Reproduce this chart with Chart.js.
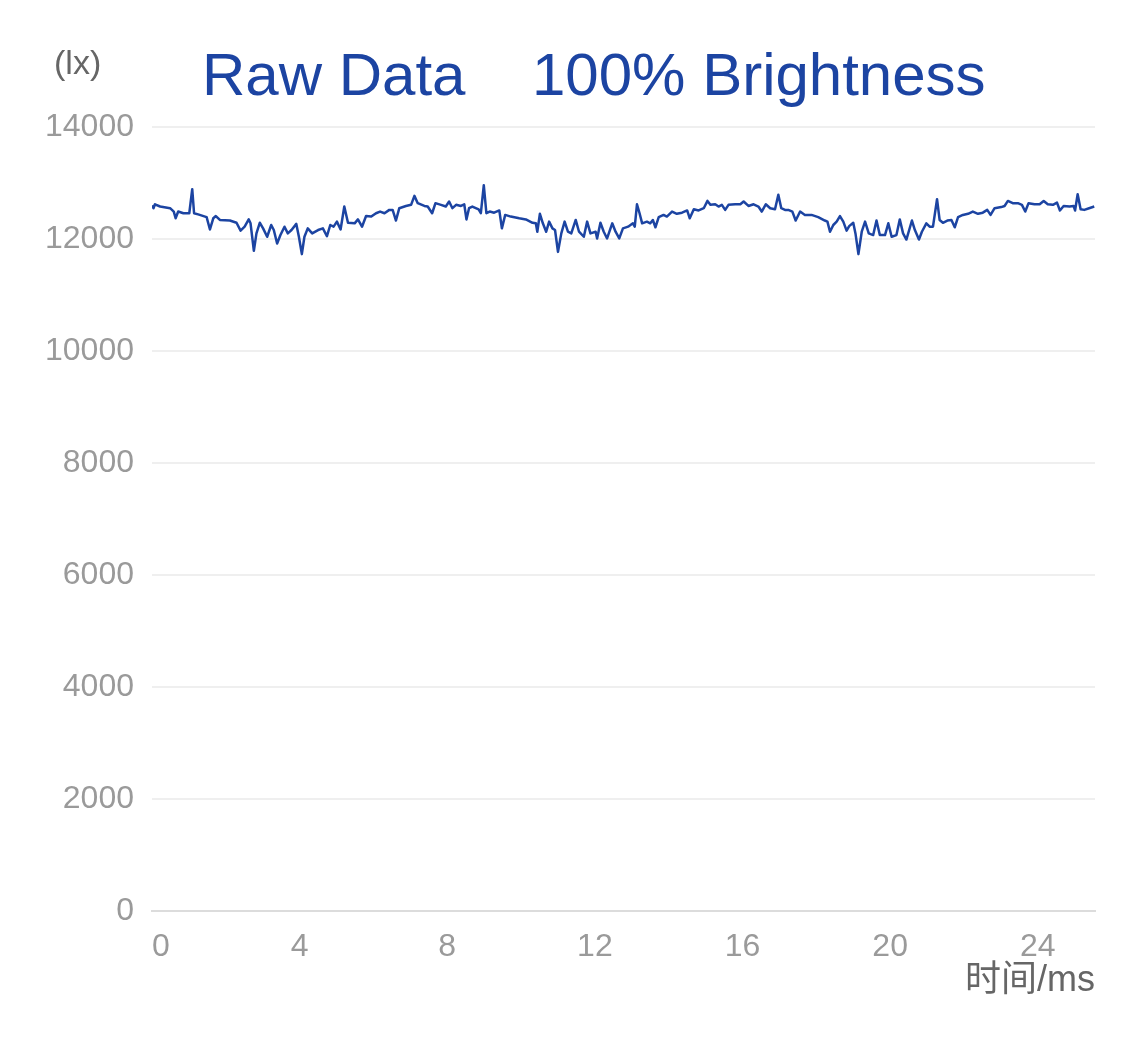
<!DOCTYPE html>
<html>
<head>
<meta charset="utf-8">
<script src="https://cdn.jsdelivr.net/npm/chart.js@4/dist/chart.umd.min.js"></script>
<style>
  body { margin: 0; background: #fff; }
  #wrap { width: 1125px; height: 1040px; }
</style>
</head>
<body>
<div id="wrap"><canvas id="lux"></canvas></div>
<script>
// time in ms, illuminance in lx
const timeMs = [
  0.00, 0.04, 0.08, 0.22, 0.49, 0.59, 0.64, 0.71, 0.85, 1.01, 1.09, 1.14, 1.25, 1.48, 1.57, 1.66,
  1.73, 1.84, 2.11, 2.29, 2.40, 2.51, 2.62, 2.67, 2.76, 2.83, 2.92, 3.01, 3.12, 3.23, 3.30, 3.39,
  3.48, 3.59, 3.68, 3.78, 3.91, 3.98, 4.06, 4.13, 4.22, 4.34, 4.50, 4.63, 4.74, 4.83, 4.92, 5.01,
  5.11, 5.21, 5.31, 5.49, 5.58, 5.69, 5.80, 5.94, 6.07, 6.18, 6.30, 6.43, 6.52, 6.61, 6.70, 6.88,
  7.02, 7.11, 7.20, 7.38, 7.47, 7.59, 7.68, 7.83, 7.96, 8.05, 8.14, 8.24, 8.37, 8.46, 8.52, 8.59,
  8.68, 8.85, 8.91, 8.99, 9.06, 9.15, 9.27, 9.41, 9.48, 9.57, 9.72, 9.95, 10.13, 10.31, 10.40, 10.44,
  10.51, 10.59, 10.68, 10.76, 10.85, 10.92, 11.00, 11.09, 11.18, 11.27, 11.36, 11.48, 11.57, 11.70, 11.79, 11.88,
  12.02, 12.06, 12.15, 12.24, 12.33, 12.47, 12.56, 12.66, 12.76, 12.90, 13.03, 13.08, 13.14, 13.21, 13.28, 13.41,
  13.50, 13.57, 13.64, 13.73, 13.86, 13.95, 14.09, 14.22, 14.36, 14.50, 14.57, 14.68, 14.81, 14.95, 15.05, 15.13,
  15.26, 15.35, 15.44, 15.53, 15.62, 15.80, 15.94, 16.03, 16.16, 16.30, 16.43, 16.52, 16.63, 16.75, 16.88, 16.97,
  17.05, 17.15, 17.24, 17.35, 17.44, 17.56, 17.69, 17.87, 18.05, 18.23, 18.30, 18.37, 18.46, 18.55, 18.64, 18.73,
  18.82, 18.89, 19.00, 19.06, 19.14, 19.23, 19.32, 19.42, 19.54, 19.63, 19.72, 19.86, 19.95, 20.04, 20.17, 20.26,
  20.35, 20.44, 20.59, 20.67, 20.78, 20.86, 20.98, 21.07, 21.16, 21.27, 21.34, 21.43, 21.55, 21.66, 21.75, 21.84,
  21.97, 22.11, 22.24, 22.38, 22.51, 22.63, 22.72, 22.83, 23.01, 23.10, 23.19, 23.32, 23.46, 23.57, 23.66, 23.75,
  23.91, 24.05, 24.16, 24.27, 24.41, 24.52, 24.60, 24.70, 24.86, 24.97, 25.01, 25.08, 25.16, 25.26, 25.39, 25.53
]
const lux = [
  12600, 12550, 12620, 12580, 12550, 12490, 12370, 12490, 12460, 12460, 12890, 12460, 12440, 12390, 12170, 12370,
  12410, 12340, 12330, 12290, 12150, 12220, 12350, 12280, 11790, 12100, 12290, 12190, 12040, 12250, 12160, 11920,
  12070, 12220, 12100, 12160, 12270, 12040, 11730, 12040, 12190, 12100, 12160, 12190, 12050, 12250, 12220, 12310,
  12170, 12580, 12290, 12280, 12350, 12220, 12410, 12400, 12460, 12490, 12460, 12520, 12520, 12330, 12550, 12590,
  12610, 12770, 12640, 12590, 12580, 12460, 12640, 12610, 12580, 12670, 12550, 12610, 12590, 12620, 12350, 12550,
  12580, 12530, 12460, 12960, 12460, 12490, 12470, 12510, 12190, 12430, 12400, 12370, 12350, 12290, 12280, 12130,
  12450, 12280, 12130, 12310, 12190, 12160, 11770, 12100, 12310, 12130, 12100, 12340, 12130, 12040, 12310, 12100,
  12130, 12010, 12290, 12130, 12010, 12280, 12130, 12010, 12190, 12220, 12280, 12220, 12620, 12460, 12280, 12310,
  12280, 12340, 12210, 12390, 12430, 12400, 12490, 12450, 12470, 12510, 12370, 12530, 12510, 12550, 12680, 12610,
  12620, 12580, 12610, 12520, 12610, 12620, 12620, 12670, 12590, 12620, 12580, 12490, 12620, 12550, 12530, 12790,
  12550, 12520, 12520, 12490, 12330, 12490, 12430, 12430, 12390, 12330, 12310, 12130, 12250, 12310, 12410, 12310,
  12150, 12230, 12290, 12100, 11730, 12130, 12310, 12100, 12070, 12330, 12070, 12070, 12280, 12040, 12070, 12350,
  12100, 11990, 12330, 12160, 11990, 12130, 12280, 12220, 12220, 12710, 12340, 12290, 12330, 12340, 12210, 12390,
  12430, 12450, 12490, 12450, 12470, 12520, 12430, 12550, 12570, 12590, 12680, 12640, 12640, 12610, 12490, 12640,
  12620, 12620, 12680, 12620, 12610, 12650, 12510, 12590, 12580, 12590, 12510, 12800, 12530, 12520, 12550, 12580
]
const xTicks = [0, 4, 8, 12, 16, 20, 24]
const xMax = 25.55
const yTicks = [0, 2000, 4000, 6000, 8000, 10000, 12000, 14000]

const blue = '#1c44a2'
const fontFamily = '"Liberation Sans", Arial, "Noto Sans CJK SC", sans-serif'

const titles = {
  id: 'titles',
  afterDraw (chart) {
    const ctx = chart.ctx
    ctx.save()
    ctx.textBaseline = 'alphabetic'
    ctx.textAlign = 'left'
    ctx.fillStyle = blue
    ctx.font = '60px ' + fontFamily
    ctx.fillText('Raw Data', 202, 95)
    ctx.fillText('100% Brightness', 532, 95)
    ctx.fillStyle = '#666'
    ctx.font = '34px ' + fontFamily
    ctx.fillText('(lx)', 54, 74)
    ctx.restore()
  }
}

new Chart(document.getElementById('lux'), {
  type: 'line',
  data: {
    datasets: [{
      data: timeMs.map((t, i) => ({ x: t, y: lux[i] })),
      borderColor: blue,
      borderWidth: 2.5,
      pointRadius: 0,
      tension: 0,
      borderJoinStyle: 'round'
    }]
  },
  options: {
    responsive: true,
    maintainAspectRatio: false,
    animation: false,
    layout: { padding: { top: 127, right: 30, bottom: 0, left: 0 } },
    plugins: { legend: { display: false }, tooltip: { enabled: false } },
    scales: {
      x: {
        type: 'linear',
        min: 0,
        max: xMax,
        afterBuildTicks (scale) {
          scale.ticks = xTicks.map(v => ({ value: v })).concat([{ value: xMax }])
        },
        afterFit (scale) { scale.height = 129 },
        ticks: {
          autoSkip: false,
          maxRotation: 0,
          align: 'inner',
          padding: 9,
          color: '#9a9a9a',
          font: { family: fontFamily, size: 32 },
          callback: v => xTicks.includes(v) ? String(v) : ''
        },
        grid: { display: false },
        border: { display: true, color: '#dcdcdc', width: 2 },
        title: {
          display: true,
          text: '时间/ms',
          align: 'end',
          color: '#666',
          font: { family: fontFamily, size: 36 },
          padding: { top: 0, bottom: 37 }
        }
      },
      y: {
        min: 0,
        max: 14000,
        afterBuildTicks (scale) {
          scale.ticks = yTicks.map(v => ({ value: v }))
        },
        afterFit (scale) { scale.width = 152 },
        ticks: {
          padding: 18,
          color: '#9a9a9a',
          font: { family: fontFamily, size: 32 },
          callback: v => String(v)
        },
        grid: { color: '#efefef', lineWidth: 2, drawTicks: false },
        border: { display: false }
      }
    }
  },
  plugins: [titles]
})
</script>
</body>
</html>
